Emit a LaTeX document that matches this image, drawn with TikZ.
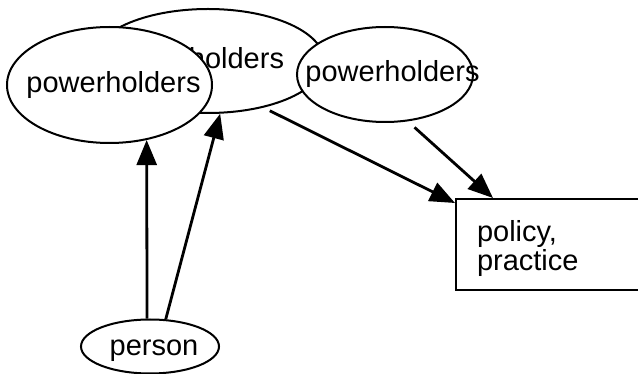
\documentclass[tikz,border=0pt]{standalone}
\usepackage{fontspec}
\setmainfont{Liberation Sans}
\usetikzlibrary{shapes.geometric,arrows.meta,calc}
\begin{document}
\begin{tikzpicture}[x=1pt,y=-1pt,
  every node/.style={font=\fontsize{29}{26}\selectfont},
  oval/.style={ellipse,draw,line width=2pt,fill=white,inner sep=0pt},
  conn/.style={line width=2.8pt,-{Triangle[length=25pt,width=20pt]}},
  boxnode/.style={draw,line width=2pt,fill=white,anchor=north west,minimum height=91pt,
    text width=142pt,inner xsep=21pt,inner ysep=0pt,align=left}
]
\useasboundingbox (0,0) rectangle (638,374);
\node[oval,minimum width=232pt,minimum height=104pt] (mid) at (208,61)
  {\makebox[0pt]{powerholders\hspace*{22pt}}};
\node[oval,minimum width=205pt,minimum height=116pt] (left) at (109.5,85)
  {\makebox[0pt]{\hspace*{8pt}powerholders}};
\node[oval,minimum width=176pt,minimum height=95pt] (right) at (385,74.5)
  {\makebox[0pt]{\hspace*{15pt}powerholders}};
\node[oval,minimum width=138pt,minimum height=54pt] (person) at (150,346.5)
  {\makebox[0pt]{\hspace*{8pt}\raisebox{-4pt}[\height][\depth]{person}}};
\node[boxnode] (box) at (455,198)
  {\raisebox{-5pt}[\height][\depth]{\begin{tabular}{@{}l@{}}policy,\\practice\end{tabular}}};
\draw[conn] (person.96) -- (left.304);
\draw[conn] (person.60) -- (mid.283);
\draw[conn,shorten <=7pt] (mid.-40) -- ($(box.north west)+(0pt,-5pt)$);
\draw[conn,shorten <=9pt] (right.-64) -- ($(box.north)+(-55pt,0pt)$);
\end{tikzpicture}
\end{document}
